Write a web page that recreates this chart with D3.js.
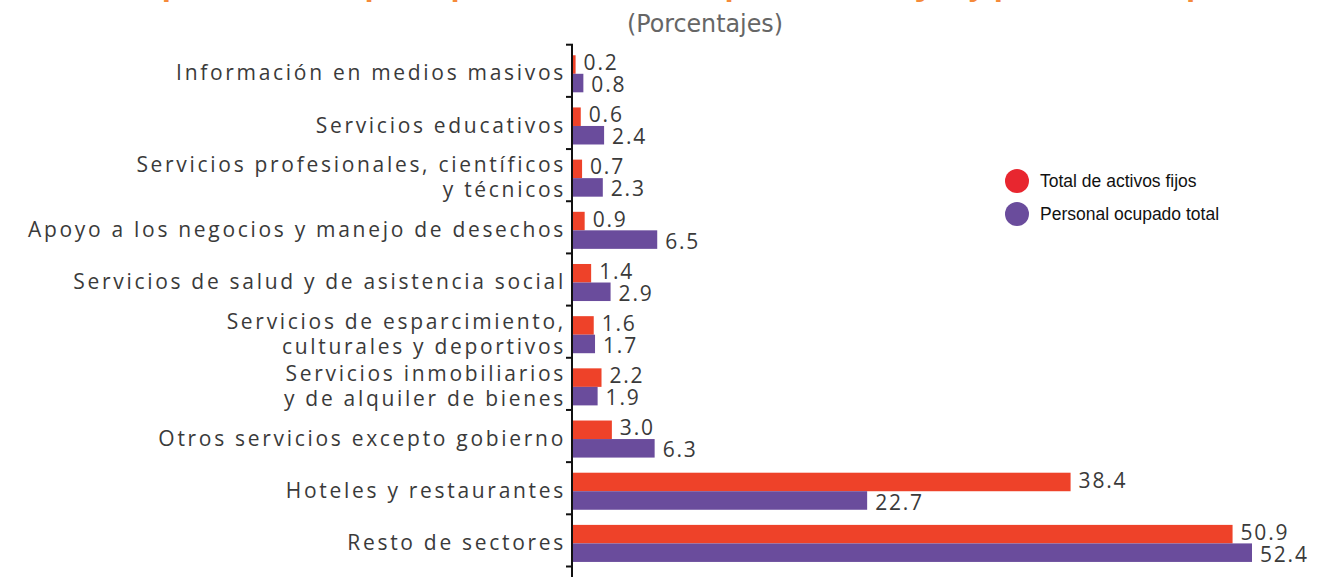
<!DOCTYPE html>
<html>
<head>
<meta charset="utf-8">
<script src="https://cdn.jsdelivr.net/npm/d3@7"></script>
<style>
  body { margin: 0; background: #fff; }
  svg { display: block; }
</style>
</head>
<body>
<div id="chart"></div>
<script>
// categories (top to bottom), label lines
const categories = [
  ['Información en medios masivos'],
  ['Servicios educativos'],
  ['Servicios profesionales, científicos', 'y técnicos'],
  ['Apoyo a los negocios y manejo de desechos'],
  ['Servicios de salud y de asistencia social'],
  ['Servicios de esparcimiento,', 'culturales y deportivos'],
  ['Servicios inmobiliarios', 'y de alquiler de bienes'],
  ['Otros servicios excepto gobierno'],
  ['Hoteles y restaurantes'],
  ['Resto de sectores']
]
const activos = [0.2, 0.6, 0.7, 0.9, 1.4, 1.6, 2.2, 3.0, 38.4, 50.9]
const personal = [0.8, 2.4, 2.3, 6.5, 2.9, 1.7, 1.9, 6.3, 22.7, 52.4]
const seriesNames = ['Total de activos fijos', 'Personal ocupado total']
const seriesColors = ['#ee4229', '#6a4c9c']
const legendColors = ['#e8262f', '#6a4c9c']

const width = 1341, height = 577

const svg = d3.select('#chart').append('svg')
  .attr('width', width)
  .attr('height', height)

// title, cut off at the very top (only descenders show)
svg.append('text')
  .attr('x', 705).attr('y', -5)
  .attr('text-anchor', 'middle')
  .attr('font-family', 'Open Sans, sans-serif')
  .attr('font-weight', 'bold')
  .attr('font-size', 30)
  .attr('fill', '#f58a3a')
  .text('Participación de los principales subsectores por activos fijos y personal ocupado, 2019')

svg.append('text')
  .attr('x', 705).attr('y', 32)
  .attr('text-anchor', 'middle')
  .attr('font-family', 'Liberation Sans Narrow, DejaVu Sans Condensed, sans-serif')
  .attr('font-size', 25)
  .attr('fill', '#666')
  .attr('textLength', 156)
  .attr('lengthAdjust', 'spacingAndGlyphs')
  .text('(Porcentajes)')

const idx = d3.range(categories.length)

const y = d3.scaleBand()
  .domain(idx)
  .range([47.7, 569.5])
  .paddingInner(0.29)
  .paddingOuter(0.145)

const y1 = d3.scaleBand()
  .domain([0, 1])
  .range([0, y.bandwidth()])

const x = d3.scaleLinear()
  .domain([0, 52.4])
  .range([573, 1252])

// bars
const groups = svg.append('g').selectAll('g')
  .data(idx)
  .join('g')
  .attr('transform', i => `translate(0,${y(i)})`)

groups.selectAll('rect')
  .data(i => [activos[i], personal[i]].map((v, s) => ({ v, s })))
  .join('rect')
  .attr('x', x(0))
  .attr('y', d => y1(d.s))
  .attr('width', d => x(d.v) - x(0))
  .attr('height', y1.bandwidth())
  .attr('fill', d => seriesColors[d.s])

groups.selectAll('text')
  .data(i => [activos[i], personal[i]].map((v, s) => ({ v, s })))
  .join('text')
  .attr('x', d => x(d.v) + 8)
  .attr('y', d => y1(d.s) + y1.bandwidth() / 2 + (d.s ? 1.5 : -2))
  .attr('dy', '0.36em')
  .attr('font-family', 'Open Sans, sans-serif')
  .attr('font-size', 21)
  .attr('letter-spacing', 1.8)
  .attr('fill', '#3a3a3a')
  .text(d => d.v.toFixed(1))

// axis: vertical line with ticks at band boundaries
const step = y.step()
const r0 = y.range()[0]
const ax = svg.append('g')
ax.append('line')
  .attr('x1', x(0) - 1).attr('x2', x(0) - 1)
  .attr('y1', r0 - 3).attr('y2', height)
  .attr('stroke', '#111').attr('stroke-width', 2)
ax.selectAll('.tick')
  .data(d3.range(categories.length + 1))
  .join('line')
  .attr('class', 'tick')
  .attr('x1', x(0) - 7).attr('x2', x(0))
  .attr('y1', i => r0 - 3 + i * step).attr('y2', i => r0 - 3 + i * step)
  .attr('stroke', '#111').attr('stroke-width', 2)

// category labels
const labels = svg.append('g').selectAll('text')
  .data(idx)
  .join('text')
  .attr('text-anchor', 'end')
  .attr('font-family', 'Open Sans, sans-serif')
  .attr('font-size', 21)
  .attr('letter-spacing', 2.7)
  .attr('fill', '#3a3a3a')

labels.selectAll('tspan')
  .data(i => categories[i].map((t, k) => ({ t, k, n: categories[i].length, i })))
  .join('tspan')
  .attr('x', 566)
  .attr('y', d => y(d.i) + y.bandwidth() / 2 - 1 + (d.k - (d.n - 1) / 2) * 25)
  .attr('dy', '0.36em')
  .text(d => d.t)

// legend
const legend = svg.append('g').selectAll('g')
  .data(seriesNames)
  .join('g')
  .attr('transform', (d, i) => `translate(1017,${181 + i * 33})`)
legend.append('circle')
  .attr('r', 12)
  .attr('fill', (d, i) => legendColors[i])
legend.append('text')
  .attr('x', 23)
  .attr('dy', '0.36em')
  .attr('font-family', 'Liberation Sans, Arial, sans-serif')
  .attr('font-size', 17.5)
  .attr('fill', '#111')
  .text(d => d)
</script>
</body>
</html>
